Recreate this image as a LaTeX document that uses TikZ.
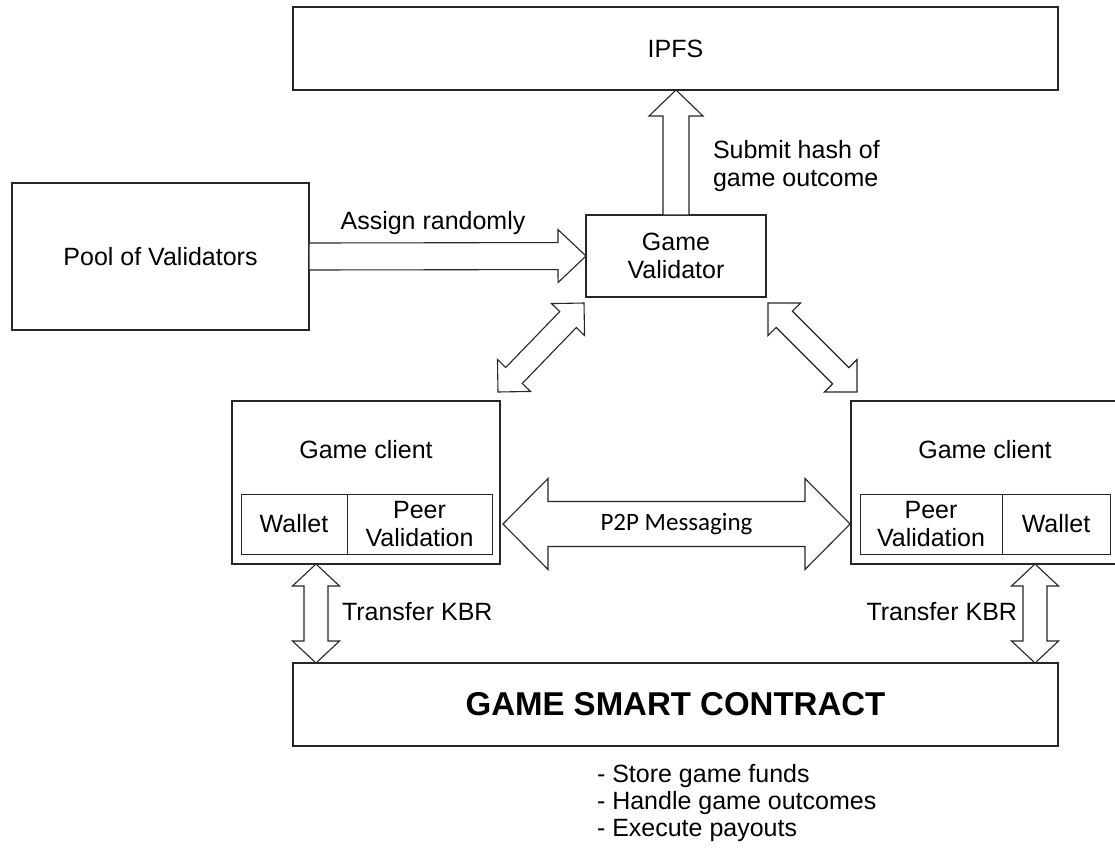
\documentclass[tikz,border=0pt]{standalone}
\usepackage{fontspec}
\setmainfont{Liberation Sans}
\newfontfamily\calib{Carlito}
\usetikzlibrary{calc}
\tikzset{
  box/.style={draw=black!85, line width=1.2pt, inner sep=0pt, outer sep=0pt,
    anchor=north west, align=center, font=\fontsize{25}{28.5}\selectfont},
  inbox/.style={box, line width=1pt},
  blk/.style={draw=black!85, fill=white, line width=1.1pt, line join=miter},
  lbl/.style={inner sep=0pt, outer sep=0pt, font=\fontsize{25}{28}\selectfont},
}
% single block arrow: tail, tip, shaft half width, head half width, head length
\newcommand\sarrow[5]{%
  \draw[blk] ($(#1)!#3!90:(#2)$) -- ($(#2)!#5!(#1)!#3!-90:(#1)$)
    -- ($(#2)!#5!(#1)!#4!-90:(#1)$) -- (#2) -- ($(#2)!#5!(#1)!#4!90:(#1)$)
    -- ($(#2)!#5!(#1)!#3!90:(#1)$) -- ($(#1)!#3!-90:(#2)$) -- cycle;}
% double block arrow: end A, end B, shaft half width, head half width, head length
\newcommand\darrow[5]{%
  \draw[blk] (#1) -- ($(#1)!#5!(#2)!#4!90:(#2)$) -- ($(#1)!#5!(#2)!#3!90:(#2)$)
    -- ($(#2)!#5!(#1)!#3!-90:(#1)$) -- ($(#2)!#5!(#1)!#4!-90:(#1)$) -- (#2)
    -- ($(#2)!#5!(#1)!#4!90:(#1)$) -- ($(#2)!#5!(#1)!#3!90:(#1)$)
    -- ($(#1)!#5!(#2)!#3!-90:(#2)$) -- ($(#1)!#5!(#2)!#4!-90:(#2)$) -- cycle;}
\begin{document}
\begin{tikzpicture}[x=1pt, y=-1pt]
\useasboundingbox (0,0) rectangle (1115,860);

% boxes
\node[box, minimum width=765, minimum height=83] (ipfs) at (293,7) {IPFS};
\node[box, minimum width=297, minimum height=147] (pool) at (12,183) {Pool of Validators};
\node[box, minimum width=180, minimum height=82] (val) at (586,215) {Game\\Validator};
\node[box, minimum width=268, minimum height=163] (lc) at (232,401) {};
\node[box, minimum width=266, minimum height=163] (rc) at (851,401) {};
\node[box, minimum width=765, minimum height=83, font=\fontsize{33}{38}\selectfont\bfseries] (gsc) at (293,663) {GAME SMART CONTRACT};

% client contents
\node[lbl] (lct) at (366,450) {Game client};
\node[inbox, minimum width=106, minimum height=60] (lw) at (241,494) {Wallet};
\node[inbox, minimum width=145, minimum height=60] (lp) at (347,494) {Peer\\Validation};
\node[lbl] (rct) at (985,450) {Game client};
\node[inbox, minimum width=142, minimum height=60] (rp) at (860,494) {Peer\\Validation};
\node[inbox, minimum width=108, minimum height=60] (rw) at (1002,494) {Wallet};

% connector end points
\coordinate (upT) at (ipfs.south -| val.north);
\coordinate (dl1) at ($(lc.north east)+(-2,-9)$);
\coordinate (dl2) at ($(val.south west)+(-2,6)$);
\coordinate (dr1) at ($(val.south east)+(2,6)$);
\coordinate (dr2) at ($(rc.north west)+(6,-9)$);
\coordinate (p1) at ($(lc.east |- lp.east)+(3,0)$);
\coordinate (p2) at ($(rc.west |- rp.west)+(-1,0)$);
\coordinate (kl1) at ($(lc.south west)+(84,0)$);
\coordinate (kl2) at (kl1 |- gsc.north);
\coordinate (kr1) at ($(rc.south west)+(184,0)$);
\coordinate (kr2) at (kr1 |- gsc.north);

% block arrows
\sarrow{val.north}{upT}{13pt}{27pt}{26pt}
\sarrow{pool.east}{val.west}{13.5pt}{26.5pt}{28pt}
\darrow{dl1}{dl2}{11.5pt}{23pt}{23pt}
\darrow{dr1}{dr2}{11.5pt}{23pt}{23pt}
\darrow{p1}{p2}{22.5pt}{45.5pt}{45pt}
\darrow{kl1}{kl2}{12pt}{23.5pt}{22pt}
\darrow{kr1}{kr2}{12pt}{23.5pt}{22pt}

% labels
\node[lbl, font=\fontsize{25}{28}\calib] (p2pl) at ($(p1)!0.5!(p2)$) {P2P Messaging};
\node[lbl] (asl) at (433,223) {Assign randomly};
\node[lbl, anchor=west, align=left] (sub) at (713,166) {Submit hash of\\game outcome};
\node[lbl, anchor=west] (tkl) at (342,612) {Transfer KBR};
\node[lbl, anchor=east] (tkr) at (1017,612) {Transfer KBR};
\node[lbl, anchor=west, align=left, font=\fontsize{25}{27}\selectfont] (notes) at (597,803)
  {- Store game funds\\- Handle game outcomes\\- Execute payouts};
\end{tikzpicture}
\end{document}
